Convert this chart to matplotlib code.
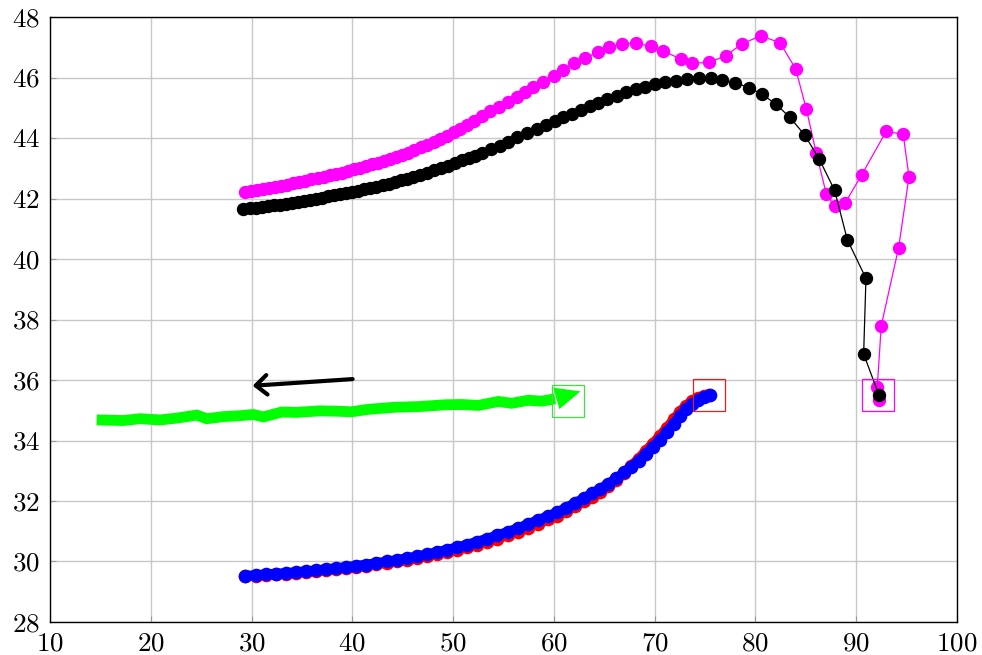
from typing import List

import matplotlib

matplotlib.use("Agg")
import matplotlib.pyplot as plt  # noqa: E402
from matplotlib.patches import FancyArrowPatch  # noqa: E402

# ---- data ----
BLACK_X: List[float] = [
    29.2, 29.8, 30.4, 31.0, 31.6, 32.2, 32.8, 33.4, 34.0, 34.6, 35.2, 35.8,
    36.4, 37.0, 37.6, 38.2, 38.8, 39.4, 40.0, 40.6, 41.2, 41.8, 42.4, 43.0,
    43.6, 44.2, 44.8, 45.4, 46.0, 46.7, 47.4, 48.1, 48.8, 49.5, 50.2, 50.9,
    51.6, 52.2, 52.9, 53.76, 54.65, 55.48, 56.31, 57.3, 58.29, 59.18, 60.11,
    60.94, 61.76, 62.69, 63.58, 64.41, 65.3, 66.23, 67.15, 68.11, 69.04,
    70.03, 71.02, 72.11, 73.23, 74.4, 75.56, 76.64, 78.0, 79.33, 80.65,
    82.04, 83.43, 84.89, 86.34, 87.86, 89.12, 90.97, 90.74, 92.26,
]
BLACK_Y: List[float] = [
    41.65, 41.67, 41.69, 41.72, 41.74, 41.77, 41.80, 41.83, 41.86, 41.89,
    41.93, 41.96, 42.00, 42.03, 42.07, 42.11, 42.15, 42.19, 42.22, 42.26,
    42.30, 42.34, 42.39, 42.44, 42.49, 42.54, 42.60, 42.66, 42.72, 42.79,
    42.86, 42.93, 43.01, 43.09, 43.17, 43.26, 43.34, 43.42, 43.50, 43.63,
    43.75, 43.88, 44.02, 44.16, 44.30, 44.43, 44.57, 44.68, 44.81, 44.93,
    45.06, 45.17, 45.28, 45.40, 45.51, 45.62, 45.70, 45.79, 45.84, 45.89,
    45.95, 45.97, 45.97, 45.92, 45.83, 45.67, 45.45, 45.12, 44.68, 44.10,
    43.30, 42.27, 40.64, 39.36, 36.86, 35.50,
]

MAGENTA_X: List[float] = [
    29.35, 29.95, 30.55, 31.15, 31.75, 32.35, 32.95, 33.55, 34.15, 34.75,
    35.35, 35.95, 36.55, 37.15, 37.75, 38.35, 38.95, 39.55, 40.15, 40.75,
    41.35, 41.95, 42.55, 43.15, 43.75, 44.35, 44.95, 45.55, 46.15, 46.8,
    47.45, 48.1, 48.75, 49.4, 50.05, 50.7, 51.35, 52.05, 52.83, 53.66,
    54.55, 55.48, 56.31, 57.13, 57.96, 58.95, 60.01, 60.94, 62.03, 63.09,
    64.34, 65.5, 66.79, 68.11, 69.6, 70.86, 72.58, 73.74, 75.42, 77.05,
    78.7, 80.55, 82.44, 83.99, 85.05, 86.04, 87.03, 87.86, 88.88, 90.54,
    92.98, 94.67, 95.24, 94.21, 92.49, 92.09, 92.29,
]
MAGENTA_Y: List[float] = [
    42.22, 42.25, 42.28, 42.31, 42.35, 42.38, 42.42, 42.45, 42.50, 42.54,
    42.59, 42.63, 42.67, 42.72, 42.77, 42.81, 42.86, 42.91, 42.96, 43.01,
    43.07, 43.13, 43.19, 43.25, 43.31, 43.37, 43.44, 43.52, 43.60, 43.69,
    43.78, 43.88, 43.98, 44.08, 44.19, 44.31, 44.43, 44.57, 44.72, 44.88,
    45.03, 45.20, 45.37, 45.53, 45.68, 45.86, 46.05, 46.25, 46.47, 46.64,
    46.84, 47.00, 47.12, 47.13, 47.04, 46.88, 46.61, 46.47, 46.50, 46.72,
    47.12, 47.38, 47.15, 46.29, 44.96, 43.50, 42.16, 41.74, 41.84, 42.78,
    44.22, 44.12, 42.72, 40.37, 37.80, 35.76, 35.34,
]

BLUE_X: List[float] = [
    29.4, 30.4, 31.4, 32.4, 33.4, 34.4, 35.4, 36.4, 37.4, 38.4, 39.4, 40.4,
    41.4, 42.4, 43.4, 44.4, 45.4, 46.4, 47.4, 48.4, 49.4, 50.4, 51.4, 52.4,
    53.4, 54.4, 55.4, 56.4, 57.4, 58.4, 59.4, 60.3, 61.2, 62.1, 63.0, 63.8,
    64.6, 65.4, 66.2, 67.0, 67.7, 68.4, 69.1, 69.8, 70.5, 71.2, 71.9, 72.5,
    73.1, 73.7, 74.3, 74.9, 75.5,
]
BLUE_Y: List[float] = [
    29.53, 29.55, 29.58, 29.60, 29.62, 29.65, 29.68, 29.71, 29.75, 29.78,
    29.82, 29.86, 29.90, 29.95, 30.00, 30.05, 30.11, 30.17, 30.24, 30.31,
    30.39, 30.47, 30.56, 30.66, 30.76, 30.87, 30.98, 31.10, 31.23, 31.37,
    31.50, 31.62, 31.78, 31.93, 32.10, 32.25, 32.40, 32.57, 32.75, 32.95,
    33.14, 33.33, 33.55, 33.78, 34.02, 34.28, 34.56, 34.81, 35.03, 35.20,
    35.33, 35.44, 35.50,
]

RED_X: List[float] = [
    29.4, 30.4, 31.4, 32.4, 33.4, 34.4, 35.4, 36.4, 37.4, 38.4, 39.4, 40.4,
    41.4, 42.4, 43.4, 44.4, 45.4, 46.4, 47.4, 48.4, 49.4, 50.4, 51.4, 52.4,
    53.4, 54.4, 55.4, 56.4, 57.4, 58.4, 59.4, 60.3, 61.2, 62.1, 63.0, 63.8,
    64.6, 65.4, 66.2, 67.0, 67.7, 68.4, 69.1, 69.8, 70.5, 71.2, 71.9, 72.5,
    73.1, 73.7, 74.3, 74.9, 75.4,
]
RED_Y: List[float] = [
    29.51, 29.53, 29.56, 29.58, 29.60, 29.63, 29.66, 29.68, 29.72, 29.75,
    29.79, 29.82, 29.86, 29.91, 29.95, 30.00, 30.05, 30.11, 30.17, 30.24,
    30.32, 30.39, 30.47, 30.56, 30.65, 30.76, 30.86, 30.98, 31.11, 31.25,
    31.39, 31.51, 31.66, 31.82, 31.99, 32.14, 32.30, 32.48, 32.68, 32.93,
    33.17, 33.40, 33.65, 33.90, 34.15, 34.42, 34.70, 34.95, 35.15, 35.30,
    35.40, 35.47, 35.49,
]

GREEN_X: List[float] = [
    14.63, 17.27, 18.93, 20.92, 22.57, 24.56, 25.55, 27.2, 28.85, 30.18,
    31.17, 32.99, 34.48, 36.79, 38.28, 39.94, 41.59, 44.23, 46.55, 49.19,
    50.85, 52.5, 54.49, 55.81, 57.46, 58.79, 60.11,
]
GREEN_Y: List[float] = [
    34.68, 34.66, 34.72, 34.68, 34.74, 34.84, 34.72, 34.79, 34.82, 34.86,
    34.78, 34.94, 34.93, 34.98, 34.97, 34.95, 35.03, 35.10, 35.12, 35.18,
    35.19, 35.16, 35.29, 35.23, 35.33, 35.30, 35.38,
]
GREEN_TIP = (62.92, 35.65)
BLACK_ARROW_START = (40.03, 36.03)
BLACK_ARROW_END = (30.11, 35.81)

# end-of-series boxes (green, red, magenta)
BOX_X = [61.36, 75.42, 92.19]
BOX_Y = [35.31, 35.49, 35.50]
BOX_COLORS = ["#44dd44", "#dd2222", "#ff00ff"]

X_TICKS = list(range(10, 101, 10))
Y_TICKS = list(range(28, 49, 2))


def make_chart(out_path: str) -> None:
    plt.rcParams["font.family"] = ["cmr10", "DejaVu Serif"]
    plt.rcParams["axes.formatter.use_mathtext"] = True
    plt.rcParams["mathtext.fontset"] = "cm"

    fig = plt.figure(figsize=(9.82, 6.55), dpi=100)
    ax = fig.add_axes([0.0509, 0.0504, 0.9236, 0.9236])

    ax.set_xlim(10, 100)
    ax.set_ylim(28, 48)
    ax.set_xticks(X_TICKS)
    ax.set_yticks(Y_TICKS)
    ax.grid(True, color="#c8c8c8", linewidth=1.0)
    ax.set_axisbelow(True)
    ax.tick_params(direction="in", length=4, width=0.8, color="#9a9a9a",
                   labelsize=19.5, pad=7, top=False, right=False)
    for spine in ax.spines.values():
        spine.set_linewidth(1.0)

    # black / magenta series
    ax.plot(BLACK_X, BLACK_Y, color="black", lw=0.9, marker="o", ms=8.6,
            zorder=3)
    ax.plot(MAGENTA_X, MAGENTA_Y, color="#ff00ff", lw=0.9, marker="o",
            ms=8.6, zorder=2)

    # red / blue: dense points, drawn as thick band + markers
    ax.plot(RED_X, RED_Y, color="#ff0000", lw=7, solid_capstyle="round",
            zorder=3)
    ax.plot(RED_X, RED_Y, color="#ff0000", lw=0, marker="o", ms=8.8, zorder=3)
    ax.plot(BLUE_X, BLUE_Y, color="#0000ff", lw=7, solid_capstyle="round",
            zorder=4)
    ax.plot(BLUE_X, BLUE_Y, color="#0000ff", lw=0, marker="o", ms=8.8,
            zorder=4)

    # green thick line with a stealth-like head
    ax.plot(GREEN_X, GREEN_Y, color="#00ff00", lw=7.8, solid_capstyle="butt",
            solid_joinstyle="miter", zorder=3)
    head = FancyArrowPatch(
        (GREEN_X[-1], GREEN_Y[-1]), GREEN_TIP,
        arrowstyle="simple,tail_width=0.55,head_width=1.15,head_length=1.3",
        mutation_scale=14, color="#00ff00", lw=0, zorder=3,
    )
    ax.add_patch(head)

    # black arrow
    ax.annotate("", xy=BLACK_ARROW_END, xytext=BLACK_ARROW_START,
                arrowprops=dict(arrowstyle="->,head_length=0.4,head_width=0.35",
                                color="black", lw=3, mutation_scale=20,
                                shrinkA=0, shrinkB=0), zorder=5)

    # end boxes
    for bx, by, bc in zip(BOX_X, BOX_Y, BOX_COLORS):
        ax.plot([bx], [by], marker="s", ms=23, mfc="none", mec=bc, mew=0.9,
                lw=0, zorder=6)

    fig.savefig(out_path, dpi=100)
    plt.close(fig)


if __name__ == "__main__":
    make_chart("out.png")
